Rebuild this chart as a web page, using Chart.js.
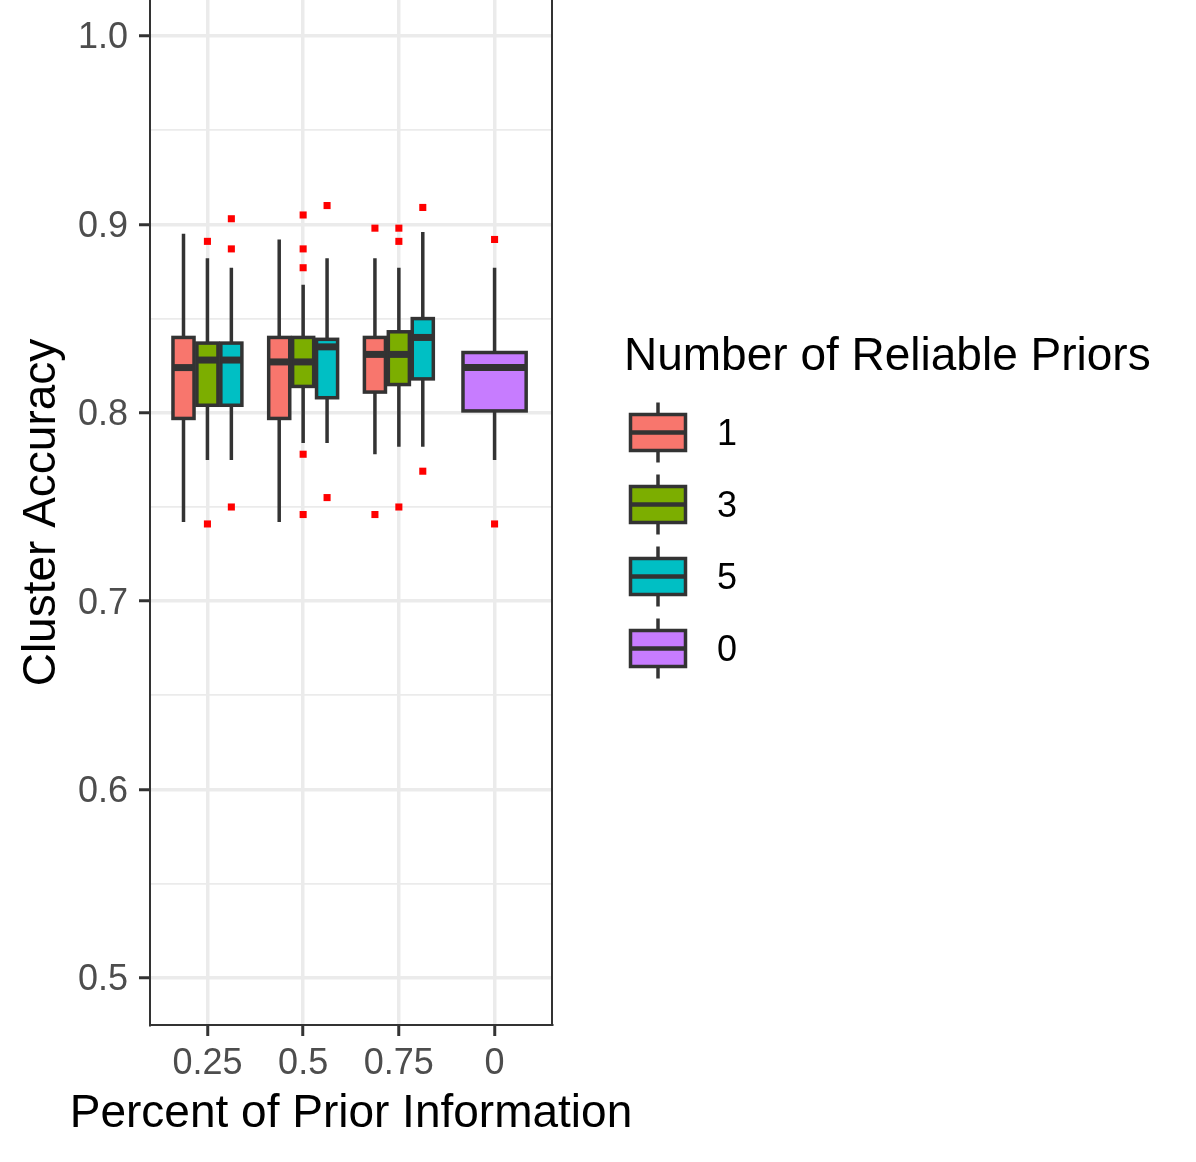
<!DOCTYPE html>
<html>
<head>
<meta charset="utf-8">
<script src="https://cdn.jsdelivr.net/npm/chart.js@4.4.1/dist/chart.umd.min.js"></script>
<style>
  html, body { margin: 0; padding: 0; background: #fff; }
  #wrap { width: 1196px; height: 1162px; }
</style>
</head>
<body>
<div id="wrap"><canvas id="accuracy"></canvas></div>
<script>
const categories = ['0.25', '0.5', '0.75', '0'];
const priorGroups = ['1', '3', '5', '0'];
const groupColors = ['#F8766D', '#7CAE00', '#00BFC4', '#C77CFF'];
const yTickValues = [0.5, 0.55, 0.6, 0.65, 0.7, 0.75, 0.8, 0.85, 0.9, 0.95, 1.0];

// one entry per box
const boxCategory = [0, 0, 0, 1, 1, 1, 2, 2, 2, 3];
const boxGroup    = [0, 1, 2, 0, 1, 2, 0, 1, 2, 3];
const whiskerLow  = [0.742, 0.775, 0.775, 0.742, 0.784, 0.784, 0.778, 0.782, 0.782, 0.775];
const lowerQuart  = [0.797, 0.804, 0.804, 0.797, 0.814, 0.808, 0.811, 0.815, 0.818, 0.801];
const medians     = [0.824, 0.828, 0.828, 0.827, 0.827, 0.835, 0.831, 0.831, 0.840, 0.824];
const upperQuart  = [0.840, 0.837, 0.837, 0.840, 0.840, 0.839, 0.840, 0.843, 0.850, 0.832];
const whiskerHigh = [0.895, 0.882, 0.877, 0.892, 0.868, 0.882, 0.882, 0.877, 0.896, 0.877];
const outliers = [
  [], [0.891, 0.741], [0.903, 0.887, 0.750],
  [], [0.905, 0.887, 0.877, 0.778, 0.746], [0.910, 0.755],
  [0.898, 0.746], [0.898, 0.891, 0.750], [0.909, 0.769],
  [0.892, 0.741]
];

const FONT = "'Liberation Sans', Arial, sans-serif";
const DARK = '#333333';
const GRID = '#EBEBEB';

// dodge boxes inside each category
function boxCount(i) {
  return boxCategory.filter(c => c === boxCategory[i]).length;
}
function boxSlot(i) {
  return boxCategory.slice(0, i).filter(c => c === boxCategory[i]).length;
}
function boxCenter(i) {
  const n = boxCount(i);
  return boxCategory[i] + (boxSlot(i) - (n - 1) / 2) * 0.75 / n;
}
function boxWidth(i) {
  return 0.75 / boxCount(i) * 0.88;
}

const outlierPoints = [];
outliers.forEach((vals, i) => {
  vals.forEach(v => outlierPoints.push({ x: boxCenter(i), y: v }));
});

const isMajor = v => Math.round(v * 100) % 10 === 0;

const boxPlugin = {
  id: 'boxes',
  beforeDatasetsDraw(chart) {
    const { ctx, scales: { x, y } } = chart;
    ctx.save();
    ctx.strokeStyle = DARK;
    ctx.lineCap = 'butt';
    boxCategory.forEach((cat, i) => {
      const c = x.getPixelForValue(boxCenter(i));
      const half = (x.getPixelForValue(boxWidth(i)) - x.getPixelForValue(0)) / 2;
      const yLo = y.getPixelForValue(whiskerLow[i]);
      const yQ1 = y.getPixelForValue(lowerQuart[i]);
      const yMed = y.getPixelForValue(medians[i]);
      const yQ3 = y.getPixelForValue(upperQuart[i]);
      const yHi = y.getPixelForValue(whiskerHigh[i]);

      ctx.lineWidth = 3.5;
      ctx.beginPath();
      ctx.moveTo(c, yHi); ctx.lineTo(c, yQ3);
      ctx.moveTo(c, yQ1); ctx.lineTo(c, yLo);
      ctx.stroke();

      ctx.fillStyle = groupColors[boxGroup[i]];
      ctx.fillRect(c - half, yQ3, 2 * half, yQ1 - yQ3);
      ctx.strokeRect(c - half, yQ3, 2 * half, yQ1 - yQ3);

      ctx.lineWidth = 7;
      ctx.beginPath();
      ctx.moveTo(c - half, yMed); ctx.lineTo(c + half, yMed);
      ctx.stroke();
    });
    ctx.restore();
  }
};

const framePlugin = {
  id: 'frame',
  afterDraw(chart) {
    const { ctx, chartArea } = chart;
    ctx.save();
    ctx.strokeStyle = DARK;
    ctx.lineWidth = 2;
    ctx.beginPath();
    ctx.moveTo(chartArea.right, chartArea.top);
    ctx.lineTo(chartArea.right, chartArea.bottom + 1);
    ctx.stroke();

    // x title drawn here so it is not squeezed into the narrow panel width
    ctx.fillStyle = '#000';
    ctx.font = '46px ' + FONT;
    ctx.textAlign = 'center';
    ctx.textBaseline = 'middle';
    ctx.fillText('Percent of Prior Information', (chartArea.left + chartArea.right) / 2, 1114);
    ctx.restore();
  }
};

const legendPlugin = {
  id: 'priorLegend',
  afterDraw(chart) {
    const { ctx, chartArea } = chart;
    const left = chartArea.right + 72;
    ctx.save();
    ctx.fillStyle = '#000';
    ctx.font = '46px ' + FONT;
    ctx.textBaseline = 'alphabetic';
    ctx.textAlign = 'left';
    ctx.fillText('Number of Reliable Priors', left, 370);

    priorGroups.forEach((g, i) => {
      const cx = left + 34;
      const cy = 432.5 + i * 72;
      ctx.strokeStyle = DARK;
      ctx.lineWidth = 3.5;
      ctx.beginPath();
      ctx.moveTo(cx, cy - 30); ctx.lineTo(cx, cy + 30);
      ctx.stroke();
      ctx.fillStyle = groupColors[i];
      ctx.fillRect(cx - 27.5, cy - 18, 55, 36);
      ctx.strokeRect(cx - 27.5, cy - 18, 55, 36);
      ctx.lineWidth = 4.5;
      ctx.beginPath();
      ctx.moveTo(cx - 27.5, cy); ctx.lineTo(cx + 27.5, cy);
      ctx.stroke();

      ctx.fillStyle = '#000';
      ctx.font = '36px ' + FONT;
      ctx.textBaseline = 'middle';
      ctx.fillText(g, left + 93, cy + 3);
    });
    ctx.restore();
  }
};

Chart.defaults.font.family = FONT;

new Chart(document.getElementById('accuracy'), {
  type: 'scatter',
  data: {
    datasets: [{
      label: 'outliers',
      data: outlierPoints,
      pointStyle: 'rect',
      radius: 5,
      borderWidth: 0,
      backgroundColor: '#FF0000'
    }]
  },
  options: {
    responsive: true,
    maintainAspectRatio: false,
    animation: false,
    layout: { autoPadding: false, padding: { left: 0, top: 0, right: 644, bottom: 0 } },
    plugins: {
      legend: { display: false },
      tooltip: { enabled: false }
    },
    scales: {
      x: {
        type: 'linear',
        min: -0.6,
        max: 3.6,
        afterBuildTicks: s => { s.ticks = categories.map((c, i) => ({ value: i })); },
        afterFit: s => { s.height = 137; s.paddingLeft = 0; s.paddingRight = 0; },
        ticks: {
          autoSkip: false,
          maxRotation: 0,
          padding: 6,
          color: '#4D4D4D',
          font: { size: 36 },
          callback: v => categories[Math.round(v)]
        },
        grid: {
          color: GRID,
          lineWidth: 3.5,
          tickLength: 11,
          tickColor: DARK,
          tickWidth: 3
        },
        border: { display: true, color: DARK, width: 2 },
        title: { display: false }
      },
      y: {
        type: 'linear',
        min: 0.47505,
        max: 1.01911,
        afterBuildTicks: s => { s.ticks = yTickValues.map(v => ({ value: v })); },
        afterFit: s => { s.width = 150; s.paddingTop = 0; s.paddingBottom = 0; },
        ticks: {
          autoSkip: false,
          padding: 11,
          labelOffset: 2.5,
          color: '#4D4D4D',
          font: { size: 36 },
          callback: v => isMajor(v) ? v.toFixed(1) : ''
        },
        grid: {
          color: GRID,
          lineWidth: ctx => isMajor(ctx.tick.value) ? 3.5 : 1.8,
          tickLength: 11,
          tickColor: ctx => isMajor(ctx.tick.value) ? DARK : 'rgba(0,0,0,0)',
          tickWidth: 3
        },
        border: { display: true, color: DARK, width: 2 },
        title: {
          display: true,
          text: 'Cluster Accuracy',
          color: '#000',
          font: { size: 46, lineHeight: 1 },
          padding: { top: 19, bottom: 0 }
        }
      }
    }
  },
  plugins: [boxPlugin, framePlugin, legendPlugin]
});
</script>
</body>
</html>
